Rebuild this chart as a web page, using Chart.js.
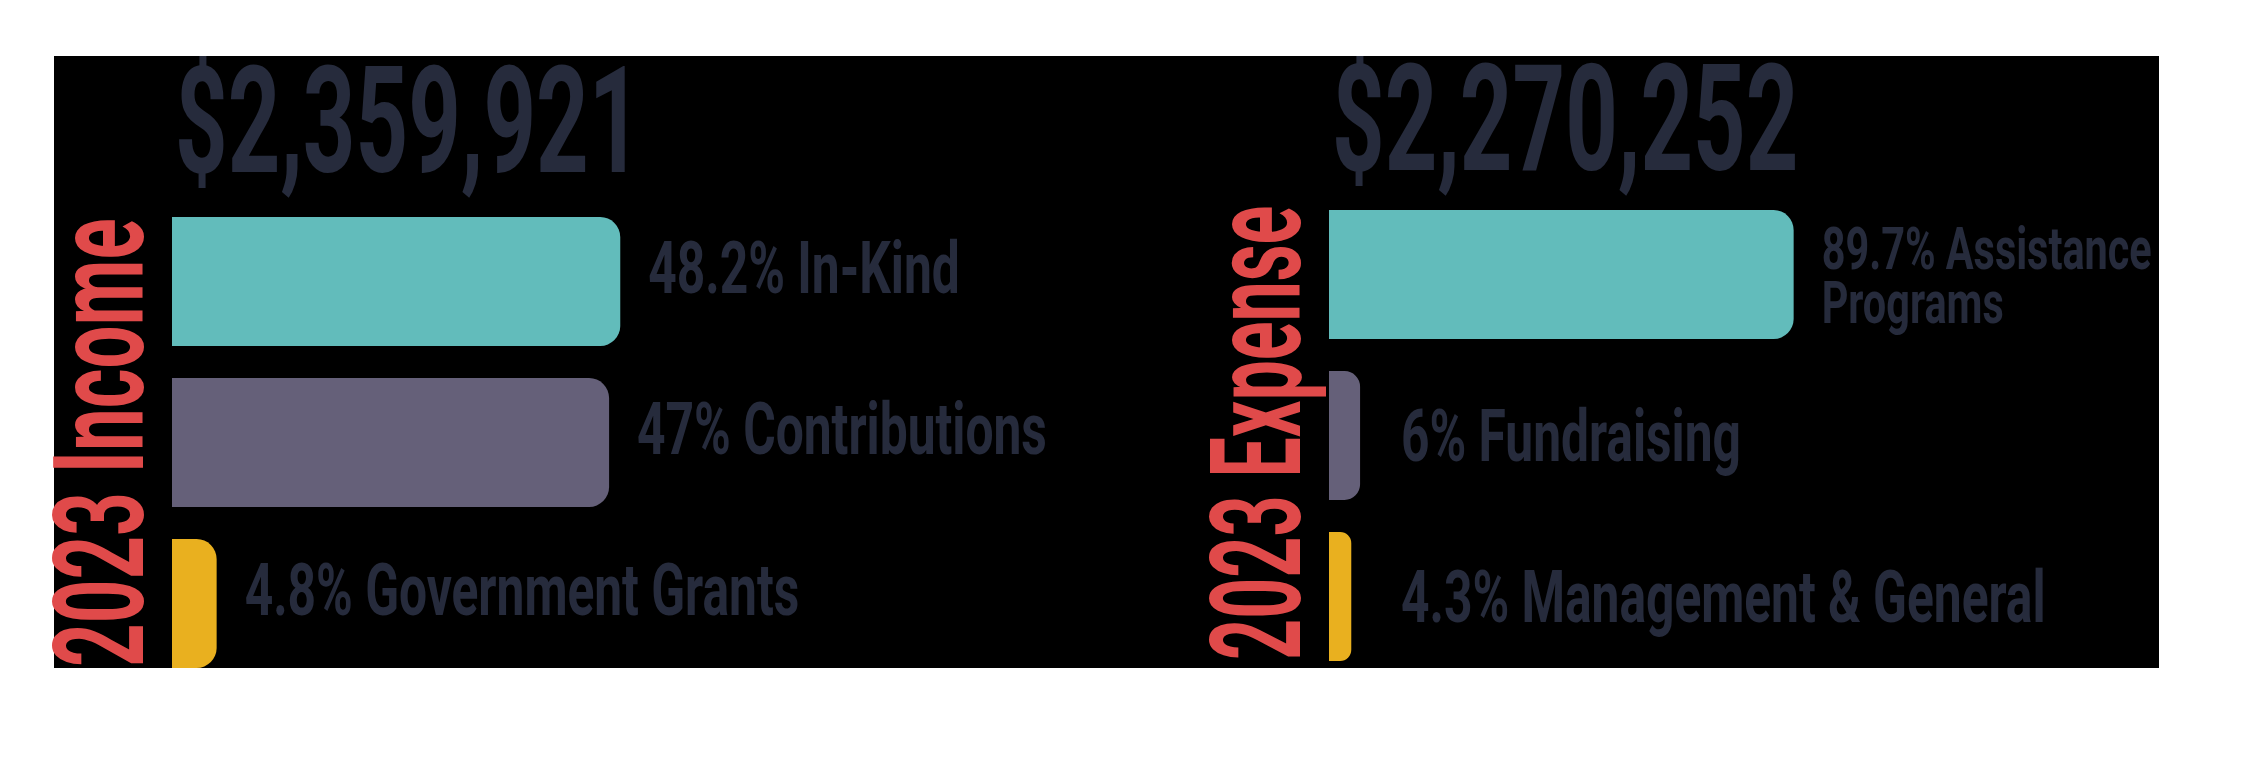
<!DOCTYPE html>
<html>
<head>
<meta charset="utf-8">
<title>2023 Income / 2023 Expense</title>
<script src="https://cdn.jsdelivr.net/npm/chart.js@4.4.0/dist/chart.umd.min.js"></script>
<style>
  html, body { margin: 0; padding: 0; background: #fff; }
  body { width: 2245px; height: 768px; position: relative; overflow: hidden; }
  #painel { position: absolute; left: 54px; top: 56px; width: 2105px; height: 612px; background: #000; }
  .quadro { position: absolute; top: 0; height: 768px; }
  #quadroReceita { left: 0; width: 1190px; }
  #quadroDespesa { left: 1190px; width: 1055px; }
</style>
</head>
<body>
<div id="painel"></div>
<div class="quadro" id="quadroReceita"><canvas id="chartReceita"></canvas></div>
<div class="quadro" id="quadroDespesa"><canvas id="chartDespesa"></canvas></div>
<script>
// Dados de receita 2023
var tituloReceita = '2023 Income';
var totalReceita = 2359921;
var categoriasReceita = ['In-Kind', 'Contributions', 'Government Grants'];
var valoresReceita = [48.2, 47, 4.8];

// Dados de despesa 2023
var tituloDespesa = '2023 Expense';
var totalDespesa = 2270252;
var categoriasDespesa = [['Assistance', 'Programs'], 'Fundraising', 'Management & General'];
var valoresDespesa = [89.7, 6, 4.3];

var coresBarras = ['#62bcbb', '#656079', '#e9b01f'];
var corTexto = '#262b3c';
var corTitulo = '#e04a4a';
var fonte = 'Roboto, "DejaVu Sans", sans-serif';

// Escreve texto "condensado" (a fonte original é estreita)
function textoEstreito(ctx, texto, x, y, escala) {
    ctx.save();
    ctx.translate(x, y);
    ctx.scale(escala, 1);
    ctx.fillText(texto, 0, 0);
    ctx.restore();
}

// Plugin que desenha o total, o título vertical e os rótulos das barras
var rotulosPlugin = {
    id: 'rotulos',
    afterDatasetsDraw: function (chart, args, opts) {
        var ctx = chart.ctx;
        var area = chart.chartArea;
        var meta = chart.getDatasetMeta(0);
        var valores = chart.data.datasets[0].data;

        ctx.save();
        // Nada passa da borda de cima do fundo preto
        ctx.beginPath();
        ctx.rect(0, opts.topoFundo, chart.width, chart.height - opts.topoFundo);
        ctx.clip();
        ctx.textAlign = 'left';
        ctx.textBaseline = 'alphabetic';

        // Total em dólares acima das barras
        ctx.fillStyle = corTexto;
        ctx.font = '700 148px ' + fonte;
        textoEstreito(ctx, '$' + opts.total.toLocaleString('en-US'), area.left + 3, area.top - opts.alturaTotal, 0.62);

        // Título vertical em vermelho
        ctx.save();
        ctx.translate(area.left - 29, area.bottom - 17);
        ctx.rotate(-Math.PI / 2);
        ctx.scale(opts.escalaTitulo, 1);
        ctx.fillStyle = corTitulo;
        ctx.font = '700 127px ' + fonte;
        ctx.fillText(opts.titulo, 0, 0);
        ctx.restore();

        // Rótulos: percentual + categoria
        ctx.fillStyle = corTexto;
        meta.data.forEach(function (barra, i) {
            var cat = chart.data.labels[i];
            var linhas = Array.isArray(cat)
                ? [valores[i] + '% ' + cat[0]].concat(cat.slice(1))
                : [valores[i] + '% ' + cat];
            var tamanho = linhas.length > 1 ? 60 : 72;
            var entrelinha = tamanho * 0.9;
            ctx.font = '700 ' + tamanho + 'px ' + fonte;
            var x = Math.max(barra.x + opts.espaco, area.left + 72);
            var y = barra.y + opts.deslocamento + tamanho * 0.711 / 2 - (linhas.length - 1) * entrelinha / 2;
            linhas.forEach(function (linha, j) {
                textoEstreito(ctx, linha, x, y + j * entrelinha, 0.69);
            });
        });
        ctx.restore();
    }
};

function criarGrafico(id, categorias, valores, titulo, total, padding, extras) {
    var ctx = document.getElementById(id).getContext('2d');
    return new Chart(ctx, {
        type: 'bar',
        data: {
            labels: categorias,
            datasets: [{
                data: valores,
                backgroundColor: coresBarras,
                borderRadius: 20,
                borderSkipped: 'start',
                barPercentage: 0.8,
                categoryPercentage: 1
            }]
        },
        options: {
            indexAxis: 'y',
            responsive: true,
            maintainAspectRatio: false,
            animation: false,
            layout: { padding: padding },
            scales: {
                x: { display: false, min: 0, max: 100 },
                y: { display: false }
            },
            plugins: {
                legend: { display: false },
                tooltip: { enabled: false },
                rotulos: Object.assign({ titulo: titulo, total: total, espaco: 28, topoFundo: 56 }, extras)
            }
        },
        plugins: [rotulosPlugin]
    });
}

// Gráfico de receita
var chartReceita = criarGrafico('chartReceita', categoriasReceita, valoresReceita, tituloReceita, totalReceita,
    { left: 172, top: 201, right: 88, bottom: 84 },
    { deslocamento: -14, alturaTotal: 29, escalaTitulo: 0.6 });

// Gráfico de despesa
var chartDespesa = criarGrafico('chartDespesa', categoriasDespesa, valoresDespesa, tituloDespesa, totalDespesa,
    { left: 139, top: 194, right: 398, bottom: 91 },
    { deslocamento: 0, alturaTotal: 24, escalaTitulo: 0.565 });
</script>
</body>
</html>
